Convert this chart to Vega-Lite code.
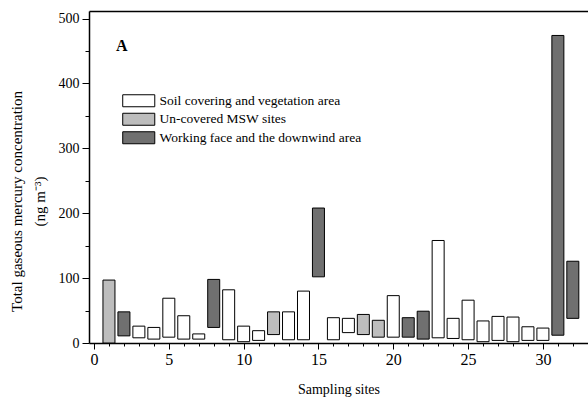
{
  "$schema": "https://vega.github.io/schema/vega-lite/v6.json",
  "autosize": "none",
  "width": 499,
  "height": 332,
  "padding": {"left": 89, "top": 11, "right": 0, "bottom": 55},
  "background": "white",
  "config": {"view": {"stroke": null}, "font": "Times New Roman, Liberation Serif, serif"},
  "title": {"text": "A", "anchor": "start", "frame": "group", "font": "Times New Roman, Liberation Serif, serif", "fontSize": 16, "fontWeight": "bold", "color": "black", "baseline": "alphabetic", "offset": 0, "dx": 27, "dy": 56},
  "data": {"values": [
    {"site": 1, "low": 0, "high": 97, "area": "Un-covered MSW sites"},
    {"site": 2, "low": 11, "high": 48, "area": "Working face and the downwind area"},
    {"site": 3, "low": 8, "high": 26, "area": "Soil covering and vegetation area"},
    {"site": 4, "low": 6, "high": 24, "area": "Soil covering and vegetation area"},
    {"site": 5, "low": 9, "high": 69, "area": "Soil covering and vegetation area"},
    {"site": 6, "low": 6, "high": 42, "area": "Soil covering and vegetation area"},
    {"site": 7, "low": 6, "high": 14, "area": "Soil covering and vegetation area"},
    {"site": 8, "low": 24, "high": 98, "area": "Working face and the downwind area"},
    {"site": 9, "low": 5, "high": 82, "area": "Soil covering and vegetation area"},
    {"site": 10, "low": 2, "high": 26, "area": "Soil covering and vegetation area"},
    {"site": 11, "low": 4, "high": 19, "area": "Soil covering and vegetation area"},
    {"site": 12, "low": 13, "high": 48, "area": "Un-covered MSW sites"},
    {"site": 13, "low": 5, "high": 48, "area": "Soil covering and vegetation area"},
    {"site": 14, "low": 5, "high": 80, "area": "Soil covering and vegetation area"},
    {"site": 15, "low": 102, "high": 208, "area": "Working face and the downwind area"},
    {"site": 16, "low": 5, "high": 39, "area": "Soil covering and vegetation area"},
    {"site": 17, "low": 16, "high": 38, "area": "Soil covering and vegetation area"},
    {"site": 18, "low": 13, "high": 44, "area": "Un-covered MSW sites"},
    {"site": 19, "low": 9, "high": 35, "area": "Un-covered MSW sites"},
    {"site": 20, "low": 9, "high": 73, "area": "Soil covering and vegetation area"},
    {"site": 21, "low": 9, "high": 39, "area": "Working face and the downwind area"},
    {"site": 22, "low": 6, "high": 49, "area": "Working face and the downwind area"},
    {"site": 23, "low": 8, "high": 158, "area": "Soil covering and vegetation area"},
    {"site": 24, "low": 7, "high": 38, "area": "Soil covering and vegetation area"},
    {"site": 25, "low": 5, "high": 66, "area": "Soil covering and vegetation area"},
    {"site": 26, "low": 2, "high": 34, "area": "Soil covering and vegetation area"},
    {"site": 27, "low": 4, "high": 41, "area": "Soil covering and vegetation area"},
    {"site": 28, "low": 2, "high": 40, "area": "Soil covering and vegetation area"},
    {"site": 29, "low": 4, "high": 25, "area": "Soil covering and vegetation area"},
    {"site": 30, "low": 4, "high": 23, "area": "Soil covering and vegetation area"},
    {"site": 31, "low": 12, "high": 474, "area": "Working face and the downwind area"},
    {"site": 32, "low": 38, "high": 126, "area": "Working face and the downwind area"}
  ]},
  "layer": [
    {
      "mark": {"type": "bar", "width": 12, "stroke": "black", "strokeWidth": 1},
      "encoding": {
        "x": {
          "field": "site", "type": "quantitative",
          "scale": {"domain": [0, 32.68], "nice": false, "zero": false},
          "axis": {
            "values": [0,1,2,3,4,5,6,7,8,9,10,11,12,13,14,15,16,17,18,19,20,21,22,23,24,25,26,27,28,29,30,31,32],
            "labelExpr": "datum.value % 5 === 0 ? datum.label : ''",
            "tickSize": {"condition": {"test": "datum.value % 5 === 0", "value": 6}, "value": 3},
            "tickColor": "black", "tickWidth": 1,
            "domainColor": "black", "domainWidth": 1.5,
            "grid": false,
            "labelFont": "Times New Roman, Liberation Serif, serif", "labelFontSize": 16, "labelColor": "black", "labelPadding": 2,
            "labelFlush": false, "labelOverlap": false,
            "title": "Sampling sites", "titleFont": "Times New Roman, Liberation Serif, serif", "titleFontSize": 14, "titleFontWeight": "normal", "titleColor": "black",
            "titleY": 50, "titleBaseline": "alphabetic"
          }
        },
        "y": {
          "field": "low", "type": "quantitative",
          "scale": {"domain": [0, 511.7], "nice": false},
          "axis": {
            "values": [0,50,100,150,200,250,300,350,400,450,500],
            "labelExpr": "datum.value % 100 === 0 ? datum.label : ''",
            "tickSize": {"condition": {"test": "datum.value % 100 === 0", "value": 7}, "value": 4},
            "tickColor": "black", "tickWidth": 1,
            "domainColor": "black", "domainWidth": 1.5,
            "grid": false,
            "labelFont": "Times New Roman, Liberation Serif, serif", "labelFontSize": 14, "labelColor": "black", "labelPadding": 3,
            "labelFlush": false, "labelOverlap": false,
            "title": ["Total gaseous mercury concentration", "(ng m⁻³)"],
            "titleFont": "Times New Roman, Liberation Serif, serif", "titleFontSize": 15, "titleFontWeight": "normal", "titleColor": "black",
            "titleLineHeight": 23, "titleAngle": 270, "titleAlign": "center", "titleBaseline": "alphabetic",
            "titleX": -68, "titleY": 190
          }
        },
        "y2": {"field": "high"},
        "fill": {
          "field": "area", "type": "nominal",
          "scale": {
            "domain": ["Soil covering and vegetation area", "Un-covered MSW sites", "Working face and the downwind area"],
            "range": ["#ffffff", "#bdbdbd", "#707070"]
          },
          "legend": {
            "orient": "none", "legendX": 43, "legendY": 83, "title": null, "padding": 0,
            "symbolType": "M-2.67,-1H2.67V1H-2.67Z", "symbolSize": 144,
            "symbolStrokeColor": "black", "symbolStrokeWidth": 1, "symbolOpacity": 1,
            "labelFont": "Times New Roman, Liberation Serif, serif", "labelFontSize": 13.5, "labelColor": "black",
            "labelOffset": 14, "rowPadding": 1.5, "labelLimit": 400
          }
        }
      }
    },
    {
      "mark": {"type": "rule", "opacity": 0},
      "encoding": {
        "x": {
          "field": "site", "type": "quantitative",
          "axis": {"orient": "top", "labels": false, "ticks": false, "title": null, "grid": false, "domainColor": "black", "domainWidth": 1.5}
        }
      }
    }
  ],
  "resolve": {"axis": {"x": "independent"}}
}
